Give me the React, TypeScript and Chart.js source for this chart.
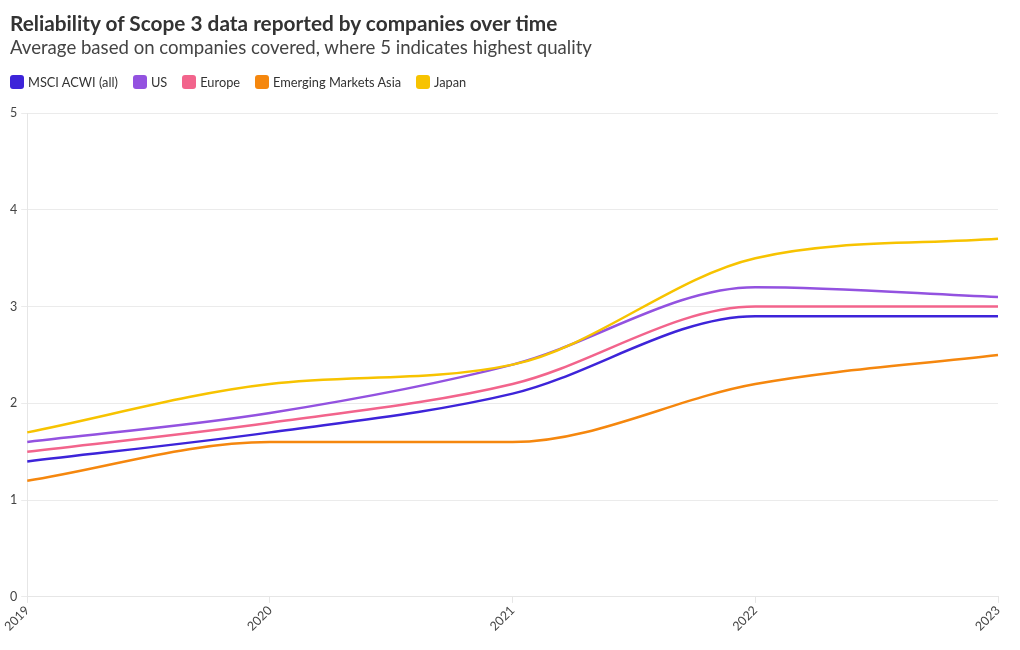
import React, { useEffect, useRef } from "react";
import { Chart, registerables } from "chart.js";

Chart.register(...registerables);

const years = ["2019", "2020", "2021", "2022", "2023"];
const msciAcwi = [1.4, 1.7, 2.1, 2.9, 2.9];
const us = [1.6, 1.9, 2.4, 3.2, 3.1];
const europe = [1.5, 1.8, 2.2, 3.0, 3.0];
const emAsia = [1.2, 1.6, 1.6, 2.2, 2.5];
const japan = [1.7, 2.2, 2.4, 3.5, 3.7];
const yTicks = [0, 1, 2, 3, 4, 5];

const seriesNames = ["MSCI ACWI (all)", "US", "Europe", "Emerging Markets Asia", "Japan"];
const seriesColors = ["#3d24d9", "#9352e0", "#f2648c", "#f5870e", "#f7c300"];
const seriesData = [msciAcwi, us, europe, emAsia, japan];
const drawOrder = [4, 2, 3, 5, 1];

const FONT = "Lato, 'Noto Sans', sans-serif";

export default function App() {
  const ref = useRef<HTMLCanvasElement>(null);
  useEffect(() => {
    const chart = new Chart(ref.current!, {
      type: "line",
      data: {
        labels: years,
        datasets: seriesNames.map((label, i) => ({
          label,
          data: seriesData[i],
          borderColor: seriesColors[i],
          backgroundColor: seriesColors[i],
          borderWidth: 2.5,
          pointRadius: 0,
          cubicInterpolationMode: "monotone",
          order: drawOrder[i],
        })),
      },
      options: {
        responsive: false,
        animation: false,
        layout: { padding: { left: 0, right: 22, top: 113, bottom: 16 } },
        plugins: {
          legend: { display: false },
          tooltip: { enabled: false },
        },
        scales: {
          x: {
            grid: { color: "#e6e6e6", tickLength: 6, drawOnChartArea: false },
            border: { color: "#e6e6e6" },
            ticks: {
              minRotation: 45,
              maxRotation: 45,
              color: "#444444",
              font: { family: FONT, size: 12.5 },
              padding: 0,
            },
          },
          y: {
            min: 0,
            max: 5,
            afterBuildTicks: (axis: any) => {
              axis.ticks = yTicks.map((v) => ({ value: v }));
            },
            afterFit: (axis: any) => {
              axis.width += 6;
            },
            grid: { color: "#ebebeb", tickLength: 6 },
            border: { color: "#e6e6e6" },
            ticks: {
              color: "#444444",
              font: { family: FONT, size: 12.5 },
              padding: 4,
            },
          },
        },
      },
    } as any);
    return () => chart.destroy();
  }, []);
  return (
    <div style={{ position: "absolute", left: 0, top: 0, width: 1020, height: 650, fontFamily: FONT }}>
      <canvas ref={ref} width={1020} height={650} style={{ position: "absolute", left: 0, top: 0 }} />
      <div
        style={{
          position: "absolute",
          left: 10,
          top: 10,
          lineHeight: "26px",
          fontSize: 20.8,
          fontWeight: 700,
          color: "#333333",
          whiteSpace: "nowrap",
        }}
      >
        Reliability of Scope 3 data reported by companies over time
      </div>
      <div
        style={{
          position: "absolute",
          left: 10,
          top: 36,
          lineHeight: "22px",
          fontSize: 18.6,
          color: "#444444",
          whiteSpace: "nowrap",
        }}
      >
        Average based on companies covered, where 5 indicates highest quality
      </div>
      <div
        style={{
          position: "absolute",
          left: 10,
          top: 75,
          height: 14,
          display: "flex",
          alignItems: "center",
          fontSize: 12.8,
          color: "#333333",
          whiteSpace: "nowrap",
        }}
      >
        {seriesNames.map((name, i) => (
          <div key={name} style={{ display: "flex", alignItems: "center", marginRight: 15 }}>
            <span
              style={{
                display: "inline-block",
                width: 14,
                height: 14,
                borderRadius: 3,
                background: seriesColors[i],
                marginRight: 4,
              }}
            />
            <span style={{ lineHeight: "14px" }}>{name}</span>
          </div>
        ))}
      </div>
    </div>
  );
}
